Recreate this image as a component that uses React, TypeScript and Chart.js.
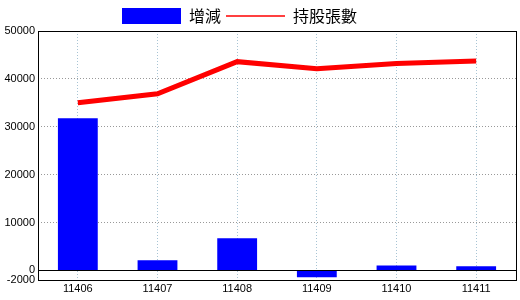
import React, { useEffect, useRef } from "react";
import { Chart, registerables } from "chart.js";

Chart.register(...registerables);

const categories = ["11406", "11407", "11408", "11409", "11410", "11411"];
const changeValues = [31800, 2100, 6700, -1400, 1050, 850];
const holdingValues = [35000, 36900, 43600, 42100, 43200, 43750];
const yTickValues = [-2000, 0, 10000, 20000, 30000, 40000, 50000];
const seriesLabels = ["增減", "持股張數"];

const framePlugin = {
  id: "frame",
  afterLayout(chart: any) {
    const lg = chart.legend;
    if (lg) {
      lg.left = 117;
      lg.top = lg.top + 3;
    }
  },
  afterDatasetsDraw(chart: any) {
    const { ctx, chartArea, scales } = chart;
    const y0 = Math.round(scales.y.getPixelForValue(0)) + 0.5;
    ctx.save();
    ctx.strokeStyle = "#000";
    ctx.lineWidth = 1;
    ctx.beginPath();
    ctx.moveTo(chartArea.left, y0);
    ctx.lineTo(chartArea.right, y0);
    ctx.stroke();
    ctx.restore();
  },
  afterDraw(chart: any) {
    const { ctx, chartArea } = chart;
    ctx.save();
    ctx.strokeStyle = "#000";
    ctx.lineWidth = 1;
    ctx.strokeRect(
      Math.round(chartArea.left) + 0.5,
      Math.round(chartArea.top) + 0.5,
      Math.round(chartArea.right - chartArea.left),
      Math.round(chartArea.bottom - chartArea.top)
    );
    ctx.restore();
  },
};

export default function App() {
  const ref = useRef<HTMLCanvasElement | null>(null);
  useEffect(() => {
    if (!ref.current) return;
    const chart = new Chart(ref.current, {
      type: "bar",
      data: {
        labels: categories,
        datasets: [
          {
            type: "bar",
            label: seriesLabels[0],
            data: changeValues,
            backgroundColor: "#0000ff",
            barPercentage: 1,
            categoryPercentage: 0.5,
          } as any,
          {
            type: "line",
            label: seriesLabels[1],
            data: holdingValues,
            borderColor: "#ff0000",
            borderWidth: 5,
            pointRadius: 0,
            tension: 0,
            fill: false,
          } as any,
        ],
      },
      options: {
        animation: false,
        responsive: false,
        layout: { padding: { top: 0, right: 4, left: 0, bottom: 0 } },
        plugins: {
          tooltip: { enabled: false },
          legend: {
            position: "top",
            align: "start",
            labels: {
              usePointStyle: true,
              pointStyleWidth: 59,
              boxHeight: 16,
              padding: 5,
              color: "#000",
              font: { family: "'Noto Sans CJK TC', sans-serif", size: 16 },
              generateLabels: () => [
                {
                  text: seriesLabels[0],
                  fillStyle: "#0000ff",
                  strokeStyle: "#0000ff",
                  lineWidth: 0,
                  pointStyle: "rect",
                  datasetIndex: 0,
                  hidden: false,
                } as any,
                {
                  text: seriesLabels[1],
                  fillStyle: "#ff0000",
                  strokeStyle: "#ff0000",
                  lineWidth: 1.5,
                  pointStyle: "line",
                  datasetIndex: 1,
                  hidden: false,
                } as any,
              ],
            },
          },
        },
        scales: {
          x: {
            offset: true,
            grid: {
              offset: false,
              color: "#a8c4d4",
              drawTicks: false,
            },
            border: { display: false, dash: [1, 2] },
            ticks: {
              color: "#000",
              padding: 2,
              font: { family: "'Liberation Sans', Arial, sans-serif", size: 11 },
            },
            afterFit: (s: any) => {
              s.height = 20;
            },
          },
          y: {
            min: -2000,
            max: 50000,
            afterBuildTicks: (s: any) => {
              s.ticks = yTickValues.map((v) => ({ value: v }));
            },
            grid: {
              drawTicks: false,
              color: (c: any) =>
                c.tick && (c.tick.value === 0 || c.tick.value === -2000 || c.tick.value === 50000)
                  ? "rgba(0,0,0,0)"
                  : "#999999",
            },
            border: { display: false, dash: [1, 2] },
            ticks: {
              color: "#000",
              padding: 3,
              font: { family: "'Liberation Sans', Arial, sans-serif", size: 11 },
              callback: (v: any) => String(v),
            },
            afterFit: (s: any) => {
              s.width = 38;
            },
          },
        },
      },
      plugins: [framePlugin],
    });
    return () => chart.destroy();
  }, []);
  return (
    <div style={{ position: "absolute", left: 0, top: 0, width: 520, height: 300, background: "#fff" }}>
      <canvas ref={ref} width={520} height={300} style={{ width: 520, height: 300 }} />
    </div>
  );
}
